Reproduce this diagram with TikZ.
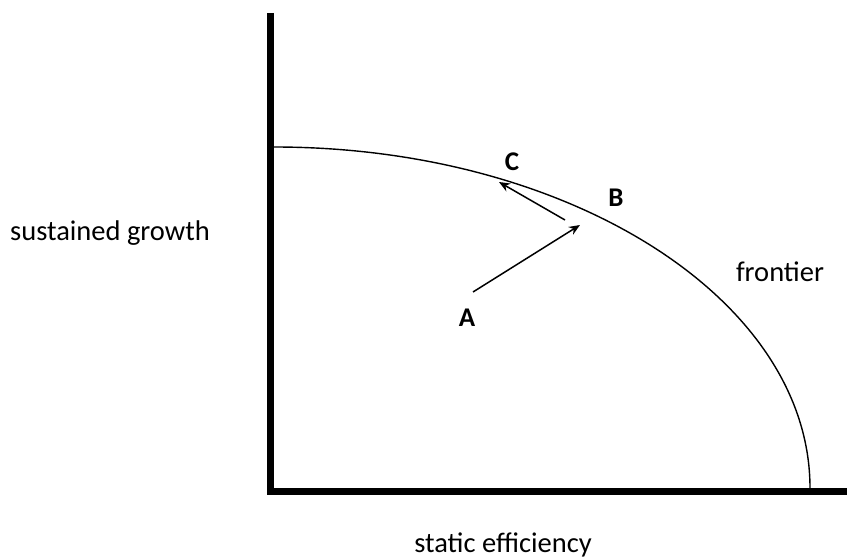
\documentclass[tikz,border=0pt]{standalone}
\usepackage{fontspec}
\setmainfont{Carlito}
\usetikzlibrary{arrows.meta}
\begin{document}
\begin{tikzpicture}[x=1pt,y=-1pt,
  axisline/.style={line width=7pt,black},
  frontierline/.style={line width=1.4pt,black},
  move/.style={line width=1.5pt,-{Stealth[length=11pt,width=9pt]}},
  lab/.style={font=\fontsize{28.5}{33}\selectfont},
  pt/.style={font=\fontsize{27}{32}\selectfont\bfseries}]
\useasboundingbox (0,0) rectangle (847,559);
\coordinate (top) at (270.5,13);
\coordinate (bottom) at (270.5,494.5);
\coordinate (left) at (267,491);
\coordinate (right) at (847,491);
\draw[axisline] (top) -- (bottom);
\draw[axisline] (left) -- (right);
\coordinate (fstart) at (274,147);
\draw[frontierline] (fstart) arc[start angle=90,end angle=0,x radius=536,y radius=-341];
\coordinate (a0) at (473,292);
\coordinate (a1) at (580,225);
\coordinate (c0) at (565,220);
\coordinate (c1) at (499,182);
\draw[move] (a0) -- (a1);
\draw[move] (c0) -- (c1);
\node[pt] (A) at (467,318) {A};
\node[pt] (B) at (616,198) {B};
\node[pt] (C) at (512,162) {C};
\node[lab] (fr) at (780,272) {frontier};
\node[lab] (sg) at (110,233) {sustained growth};
\node[lab] (se) at (503,545) {static efficiency};
\end{tikzpicture}
\end{document}
